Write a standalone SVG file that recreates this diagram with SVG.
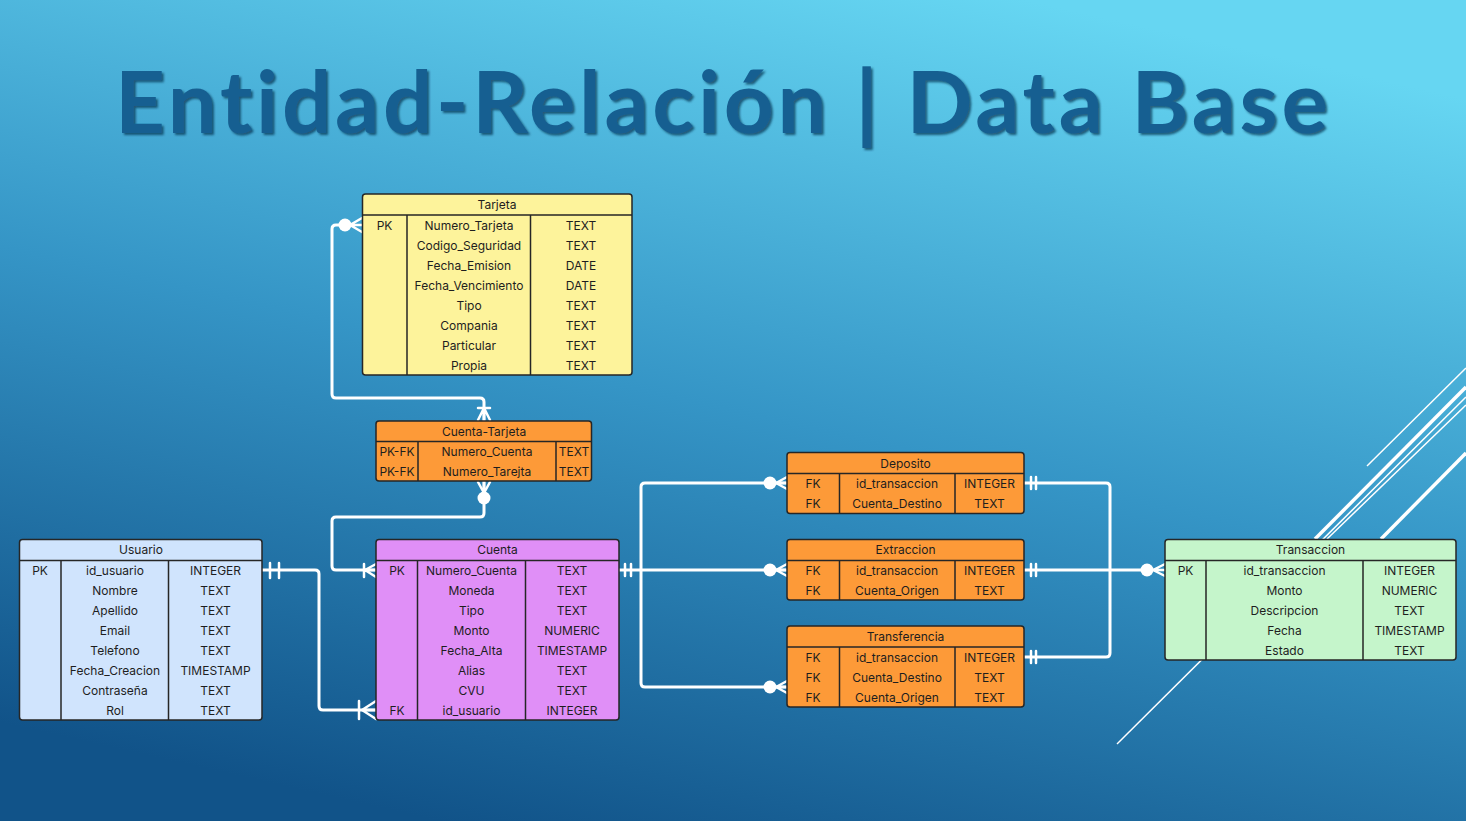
<svg xmlns="http://www.w3.org/2000/svg" width="1466" height="821" viewBox="0 0 1466 821">
<defs>
<linearGradient id="bg" x1="0.3" y1="1" x2="0.7" y2="0">
<stop offset="0" stop-color="#115389"/>
<stop offset="0.5" stop-color="#3595c6"/>
<stop offset="1" stop-color="#66d6f2"/>
</linearGradient>
<filter id="ts" x="-5%" y="-20%" width="110%" height="140%">
<feGaussianBlur in="SourceAlpha" stdDeviation="1.2" result="b"/>
<feOffset in="b" dx="1.5" dy="2" result="o"/>
<feFlood flood-color="#0a2f4d" flood-opacity="0.7"/>
<feComposite in2="o" operator="in" result="s"/>
<feMerge><feMergeNode in="s"/><feMergeNode in="SourceGraphic"/></feMerge>
</filter>
</defs>
<style>
.tb{stroke:#262626;stroke-width:1.5}
.ln{stroke:#262626;stroke-width:1.5;fill:none}
.t{font-family:Inter,"Liberation Sans",sans-serif;font-size:12px;fill:#1e1e1e;text-anchor:middle}
.c{fill:none;stroke:#fff;stroke-width:3;stroke-linejoin:round;stroke-linecap:round}
.m{fill:none;stroke:#fff;stroke-width:2.5;stroke-linecap:round}
.dot{fill:#fff}
.deco{stroke:#fff;fill:none}
.title{font-family:Lato,"Liberation Sans",sans-serif;font-weight:bold;font-size:87px;fill:#155f91;font-variant-ligatures:none;font-feature-settings:"liga" 0,"clig" 0}
</style>
<rect width="1466" height="821" fill="url(#bg)"/>

<g id="deco">
<line class="deco" x1="1367" y1="466" x2="1466" y2="368" stroke-width="1.5"/>
<line class="deco" x1="1315" y1="539" x2="1466" y2="387" stroke-width="3.5"/>
<line class="deco" x1="1117" y1="744" x2="1466" y2="397" stroke-width="1.5"/>
<line class="deco" x1="1327" y1="539" x2="1466" y2="405" stroke-width="1.5"/>
<line class="deco" x1="1381" y1="539" x2="1466" y2="453" stroke-width="3.5"/>
</g>

<g id="title">
<text class="title" x="115" y="133" textLength="1213" lengthAdjust="spacing" filter="url(#ts)">Entidad-Relación | Data Base</text>
</g>

<g id="connectors">
<path class="c" d="M345 225 H336 Q332 225 332 229 V394 Q332 398 336 398 H480 Q484 398 484 402 V421"/>
<circle class="dot" cx="345" cy="225" r="6.5"/>
<path class="m" d="M350 225 L362 218 M350 225 H362 M350 225 L362 232"/>
<path class="m" d="M484 408 L478 420 M484 408 V420 M484 408 L490 420 M478 408 H490"/>
<path class="c" d="M484 481 V513 Q484 517 480 517 H336 Q332 517 332 521 V566 Q332 570 336 570 H376"/>
<path class="m" d="M478 482 L484 493 M484 482 V493 M490 482 L484 493"/>
<circle class="dot" cx="484" cy="498" r="6.5"/>
<path class="m" d="M364 564 V577 M365 570 L376 564 M365 570 H376 M365 570 L376 577"/>
<path class="c" d="M262 570 H315 Q319 570 319 574 V706 Q319 710 323 710 H376"/>
<path class="m" d="M270 563 V578 M279 563 V578"/>
<path class="m" d="M359 701 V719 M362 710 L376 701 M362 710 H376 M362 710 L376 719"/>
<path class="c" d="M619 570 H786"/>
<path class="c" d="M786 483 H645 Q641 483 641 487 V683 Q641 687 645 687 H786"/>
<path class="m" d="M625 564 V576 M631 564 V576"/>
<circle class="dot" cx="770" cy="483" r="6.5"/>
<circle class="dot" cx="770" cy="570" r="6.5"/>
<circle class="dot" cx="770" cy="687" r="6.5"/>
<path class="m" d="M776 483 L787 477 M776 483 H787 M776 483 L787 489"/>
<path class="m" d="M776 570 L787 564 M776 570 H787 M776 570 L787 576"/>
<path class="m" d="M776 687 L787 681 M776 687 H787 M776 687 L787 693"/>
<path class="c" d="M1024 483 H1106 Q1110 483 1110 487 V653 Q1110 657 1106 657 H1024"/>
<path class="c" d="M1024 570 H1148"/>
<path class="m" d="M1031 477 V489 M1036 477 V489"/>
<path class="m" d="M1031 564 V576 M1036 564 V576"/>
<path class="m" d="M1031 651 V663 M1036 651 V663"/>
<circle class="dot" cx="1147" cy="570" r="6.5"/>
<path class="m" d="M1153 570 L1165 564 M1153 570 H1165 M1153 570 L1165 576"/>
</g>

<g id="tarjeta">
<rect class="tb" x="362.5" y="194" width="269.5" height="181" rx="3" fill="#fdf39b"/>
<path class="ln" d="M362.5 215 H632 M407 215 V375 M530.5 215 V375"/>
<text class="t" x="497" y="208.5">Tarjeta</text>
<text class="t" x="384.5" y="229.5">PK</text>
<text class="t" x="469" y="229.5">Numero_Tarjeta</text><text class="t" x="581" y="229.5">TEXT</text>
<text class="t" x="469" y="249.5">Codigo_Seguridad</text><text class="t" x="581" y="249.5">TEXT</text>
<text class="t" x="469" y="269.5">Fecha_Emision</text><text class="t" x="581" y="269.5">DATE</text>
<text class="t" x="469" y="289.5">Fecha_Vencimiento</text><text class="t" x="581" y="289.5">DATE</text>
<text class="t" x="469" y="309.5">Tipo</text><text class="t" x="581" y="309.5">TEXT</text>
<text class="t" x="469" y="329.5">Compania</text><text class="t" x="581" y="329.5">TEXT</text>
<text class="t" x="469" y="349.5">Particular</text><text class="t" x="581" y="349.5">TEXT</text>
<text class="t" x="469" y="369.5">Propia</text><text class="t" x="581" y="369.5">TEXT</text>
</g>

<g id="cuenta-tarjeta">
<rect class="tb" x="376" y="421" width="215.5" height="60" rx="3" fill="#fd9a38"/>
<path class="ln" d="M376 441.5 H591.5 M418 441.5 V481 M556 441.5 V481"/>
<text class="t" x="484" y="435.5">Cuenta-Tarjeta</text>
<text class="t" x="397" y="456">PK-FK</text><text class="t" x="487" y="456">Numero_Cuenta</text><text class="t" x="574" y="456">TEXT</text>
<text class="t" x="397" y="476">PK-FK</text><text class="t" x="487" y="476">Numero_Tarejta</text><text class="t" x="574" y="476">TEXT</text>
</g>

<g id="usuario">
<rect class="tb" x="19.5" y="539.5" width="242.5" height="180.5" rx="3" fill="#d0e4fd"/>
<path class="ln" d="M19.5 560.5 H262 M61 560.5 V720 M168.5 560.5 V720"/>
<text class="t" x="141" y="554">Usuario</text>
<text class="t" x="40" y="574.5">PK</text>
<text class="t" x="115" y="574.5">id_usuario</text><text class="t" x="215.5" y="574.5">INTEGER</text>
<text class="t" x="115" y="594.5">Nombre</text><text class="t" x="215.5" y="594.5">TEXT</text>
<text class="t" x="115" y="614.5">Apellido</text><text class="t" x="215.5" y="614.5">TEXT</text>
<text class="t" x="115" y="634.5">Email</text><text class="t" x="215.5" y="634.5">TEXT</text>
<text class="t" x="115" y="654.5">Telefono</text><text class="t" x="215.5" y="654.5">TEXT</text>
<text class="t" x="115" y="674.5">Fecha_Creacion</text><text class="t" x="215.5" y="674.5">TIMESTAMP</text>
<text class="t" x="115" y="694.5">Contraseña</text><text class="t" x="215.5" y="694.5">TEXT</text>
<text class="t" x="115" y="714.5">Rol</text><text class="t" x="215.5" y="714.5">TEXT</text>
</g>

<g id="cuenta">
<rect class="tb" x="376" y="539.5" width="243" height="180.5" rx="3" fill="#e08ff7"/>
<path class="ln" d="M376 560.5 H619 M417.5 560.5 V720 M525.5 560.5 V720"/>
<text class="t" x="497.5" y="554">Cuenta</text>
<text class="t" x="397" y="574.5">PK</text>
<text class="t" x="471.5" y="574.5">Numero_Cuenta</text><text class="t" x="572" y="574.5">TEXT</text>
<text class="t" x="471.5" y="594.5">Moneda</text><text class="t" x="572" y="594.5">TEXT</text>
<text class="t" x="471.5" y="614.5">Tipo</text><text class="t" x="572" y="614.5">TEXT</text>
<text class="t" x="471.5" y="634.5">Monto</text><text class="t" x="572" y="634.5">NUMERIC</text>
<text class="t" x="471.5" y="654.5">Fecha_Alta</text><text class="t" x="572" y="654.5">TIMESTAMP</text>
<text class="t" x="471.5" y="674.5">Alias</text><text class="t" x="572" y="674.5">TEXT</text>
<text class="t" x="471.5" y="694.5">CVU</text><text class="t" x="572" y="694.5">TEXT</text>
<text class="t" x="397" y="714.5">FK</text>
<text class="t" x="471.5" y="714.5">id_usuario</text><text class="t" x="572" y="714.5">INTEGER</text>
</g>

<g id="deposito">
<rect class="tb" x="787" y="452.5" width="237" height="61" rx="3" fill="#fd9a38"/>
<path class="ln" d="M787 473.5 H1024 M839.5 473.5 V513.5 M955 473.5 V513.5"/>
<text class="t" x="905.5" y="467.5">Deposito</text>
<text class="t" x="813" y="487.5">FK</text><text class="t" x="897" y="487.5">id_transaccion</text><text class="t" x="989.5" y="487.5">INTEGER</text>
<text class="t" x="813" y="507.5">FK</text><text class="t" x="897" y="507.5">Cuenta_Destino</text><text class="t" x="989.5" y="507.5">TEXT</text>
</g>

<g id="extraccion">
<rect class="tb" x="787" y="539.5" width="237" height="60.5" rx="3" fill="#fd9a38"/>
<path class="ln" d="M787 560.5 H1024 M839.5 560.5 V600 M955 560.5 V600"/>
<text class="t" x="905.5" y="554">Extraccion</text>
<text class="t" x="813" y="574.5">FK</text><text class="t" x="897" y="574.5">id_transaccion</text><text class="t" x="989.5" y="574.5">INTEGER</text>
<text class="t" x="813" y="594.5">FK</text><text class="t" x="897" y="594.5">Cuenta_Origen</text><text class="t" x="989.5" y="594.5">TEXT</text>
</g>

<g id="transferencia">
<rect class="tb" x="787" y="626" width="237" height="81" rx="3" fill="#fd9a38"/>
<path class="ln" d="M787 647 H1024 M839.5 647 V707 M955 647 V707"/>
<text class="t" x="905.5" y="640.5">Transferencia</text>
<text class="t" x="813" y="661.5">FK</text><text class="t" x="897" y="661.5">id_transaccion</text><text class="t" x="989.5" y="661.5">INTEGER</text>
<text class="t" x="813" y="681.5">FK</text><text class="t" x="897" y="681.5">Cuenta_Destino</text><text class="t" x="989.5" y="681.5">TEXT</text>
<text class="t" x="813" y="701.5">FK</text><text class="t" x="897" y="701.5">Cuenta_Origen</text><text class="t" x="989.5" y="701.5">TEXT</text>
</g>

<g id="transaccion">
<rect class="tb" x="1165" y="539.5" width="291" height="120.5" rx="3" fill="#c5f5cb"/>
<path class="ln" d="M1165 560.5 H1456 M1206 560.5 V660 M1363 560.5 V660"/>
<text class="t" x="1310.5" y="554">Transaccion</text>
<text class="t" x="1185.5" y="574.5">PK</text>
<text class="t" x="1284.5" y="574.5">id_transaccion</text><text class="t" x="1409.5" y="574.5">INTEGER</text>
<text class="t" x="1284.5" y="594.5">Monto</text><text class="t" x="1409.5" y="594.5">NUMERIC</text>
<text class="t" x="1284.5" y="614.5">Descripcion</text><text class="t" x="1409.5" y="614.5">TEXT</text>
<text class="t" x="1284.5" y="634.5">Fecha</text><text class="t" x="1409.5" y="634.5">TIMESTAMP</text>
<text class="t" x="1284.5" y="654.5">Estado</text><text class="t" x="1409.5" y="654.5">TEXT</text>
</g>
</svg>
